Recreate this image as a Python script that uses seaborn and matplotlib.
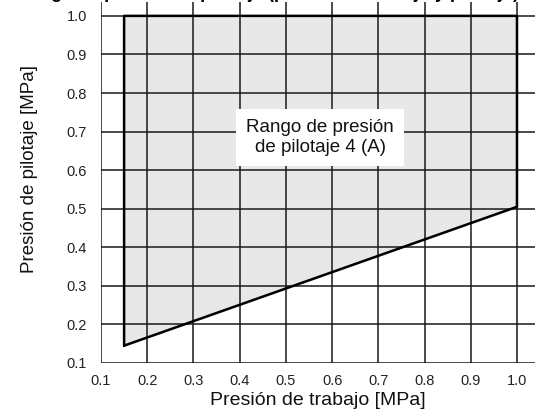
import numpy as np
import pandas as pd
import matplotlib
matplotlib.use('Agg')
import matplotlib.pyplot as plt
import seaborn as sns

# ticks on both axes (MPa)
ticks = [0.1, 0.2, 0.3, 0.4, 0.5, 0.6, 0.7, 0.8, 0.9, 1.0]
tick_labels = ['0.1', '0.2', '0.3', '0.4', '0.5', '0.6', '0.7', '0.8', '0.9', '1.0']

# corners of the pilot pressure range
region_x = [0.15, 0.15, 1.0, 1.0, 0.15]
region_y = [0.145, 1.0, 1.0, 0.505, 0.145]

sns.set_style('white')
plt.rcParams['font.family'] = ['Liberation Sans', 'DejaVu Sans']

fig = plt.figure(figsize=(5.35, 4.16), dpi=100)
ax = fig.add_axes([101 / 535, 1 - 363 / 416, 434 / 535, 361 / 416])

region = pd.DataFrame({'x': region_x, 'y': region_y})
ax.fill(region['x'], region['y'], color='#e8e8e8', zorder=1)

for t in ticks:
    ax.axvline(t, color='#1a1a1a', lw=1.1, zorder=2)
    ax.axhline(t, color='#1a1a1a', lw=1.1, zorder=2)

sns.lineplot(data=region, x='x', y='y', sort=False, estimator=None, errorbar=None,
             color='black', lw=1.8, ax=ax, zorder=3)

ax.text(0.574, 0.685, 'Rango de presión\nde pilotaje 4 (A)', ha='center', va='center',
        fontsize=13.5, color='#111111', linespacing=1.2, zorder=4,
        bbox=dict(boxstyle='square,pad=0.55', fc='white', ec='none'))

ax.set_xlim(0.1, 1.039)
ax.set_ylim(0.1, 1.036)
ax.set_xticks(ticks)
ax.set_xticklabels(tick_labels)
ax.set_yticks(ticks)
ax.set_yticklabels(tick_labels)
ax.tick_params(length=0, labelsize=10.5, labelcolor='#222222', pad=8)
ax.tick_params(axis='y', pad=10)
for s in ax.spines.values():
    s.set_visible(False)

ax.set_xlabel('Presión de trabajo [MPa]', fontsize=14, color='#111111', labelpad=3)
ax.set_ylabel('Presión de pilotaje [MPa]', fontsize=13.5, color='#111111')
ax.yaxis.set_label_coords(-0.145, 0.537)

# title clipped by the top edge, only its descenders show
fig.text(0.5, 1 + 2 / 416, 'Rango de presión de pilotaje (presión de trabajo y pilotaje)',
         ha='center', va='baseline', fontsize=13, fontweight='bold', color='black')

fig.savefig('out.png', dpi=100)
